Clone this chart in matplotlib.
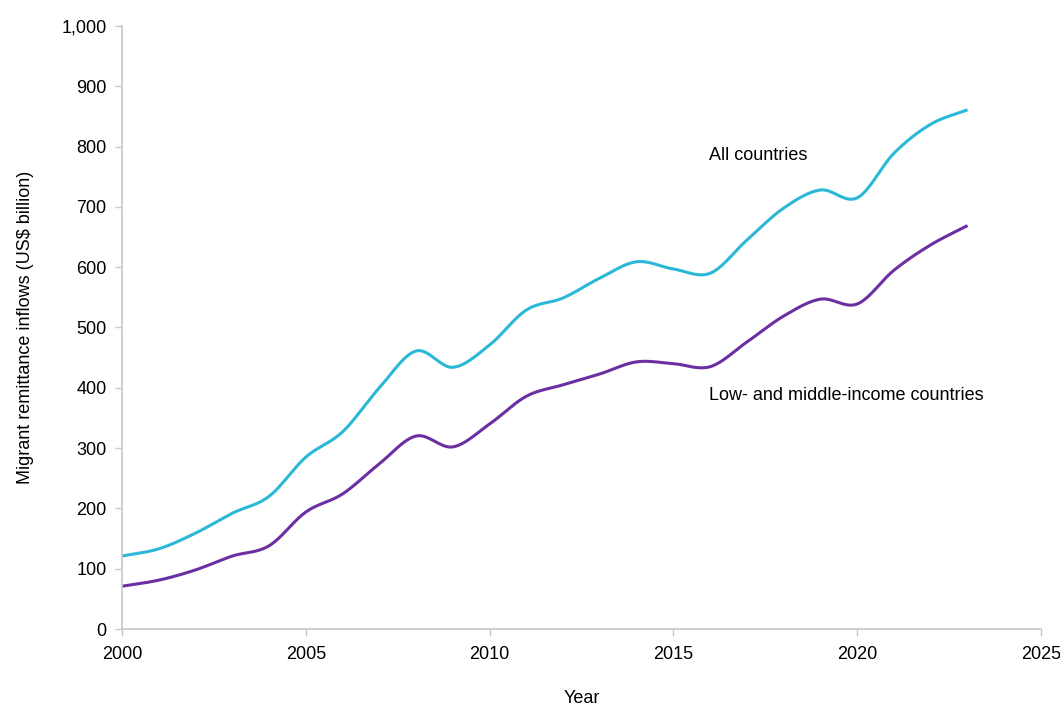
import matplotlib
matplotlib.use("Agg")
import matplotlib.pyplot as plt
from matplotlib.ticker import FuncFormatter
import numpy as np

plt.rcParams['font.family'] = ['Liberation Sans', 'DejaVu Sans']

years = list(range(2000, 2024))
all_countries = [121, 133, 159, 192, 220, 285, 327, 400, 461, 434, 471, 529,
                 549, 582, 609, 597, 590, 645, 698, 728, 715, 789, 837, 861]
lmic = [71, 81, 98, 121, 138, 194, 224, 274, 320, 302, 340, 386,
        405, 423, 443, 440, 435, 476, 519, 547, 539, 595, 637, 669]

CYAN = '#2bb8d6'
PURPLE = '#6b2fa3'


def smooth(x, y, n=20):
    # catmull-rom style smoothing, like excel's smoothed line
    x = np.asarray(x, float)
    y = np.asarray(y, float)
    px = np.concatenate([[2 * x[0] - x[1]], x, [2 * x[-1] - x[-2]]])
    py = np.concatenate([[2 * y[0] - y[1]], y, [2 * y[-1] - y[-2]]])
    xs, ys = [], []
    t = np.linspace(0, 1, n, endpoint=False)
    for i in range(1, len(px) - 2):
        for arr, out in ((px, xs), (py, ys)):
            p0, p1, p2, p3 = arr[i - 1], arr[i], arr[i + 1], arr[i + 2]
            m1 = (p2 - p0) / 2
            m2 = (p3 - p1) / 2
            h00 = 2 * t**3 - 3 * t**2 + 1
            h10 = t**3 - 2 * t**2 + t
            h01 = -2 * t**3 + 3 * t**2
            h11 = t**3 - t**2
            out.extend(h00 * p1 + h10 * m1 + h01 * p2 + h11 * m2)
    xs.append(x[-1])
    ys.append(y[-1])
    return np.array(xs), np.array(ys)


fig = plt.figure(figsize=(10.6, 7.07), dpi=100)
ax = fig.add_axes([0.1151, 0.1103, 0.867, 0.853])

sx, sy = smooth(years, all_countries)
ax.plot(sx, sy, color=CYAN, lw=2.2, solid_capstyle='butt')
sx, sy = smooth(years, lmic)
ax.plot(sx, sy, color=PURPLE, lw=2.2, solid_capstyle='butt')

FS = 13
ax.text(2017.3, 786, 'All countries', fontsize=FS, ha='center', va='center')
ax.text(2019.7, 388, 'Low- and middle-income countries', fontsize=FS,
        ha='center', va='center')

ax.set_xlim(2000, 2025)
ax.set_ylim(0, 1000)
ax.set_xticks(range(2000, 2026, 5))
ax.set_yticks(range(0, 1001, 100))
ax.yaxis.set_major_formatter(FuncFormatter(lambda v, p: f'{int(v):,}'))

for s in ['top', 'right']:
    ax.spines[s].set_visible(False)
for s in ['left', 'bottom']:
    ax.spines[s].set_color('#c8c8c8')
    ax.spines[s].set_linewidth(1.2)
ax.tick_params(colors='#c8c8c8', labelcolor='black', labelsize=FS,
               length=5, width=1.0)
ax.tick_params(axis='x', pad=7)
ax.tick_params(axis='y', pad=6)

ax.set_xlabel('Year', fontsize=FS, labelpad=20)
ax.set_ylabel('Migrant remittance inflows (US$ billion)', fontsize=FS,
              labelpad=20)

fig.savefig('out.png', dpi=100)
